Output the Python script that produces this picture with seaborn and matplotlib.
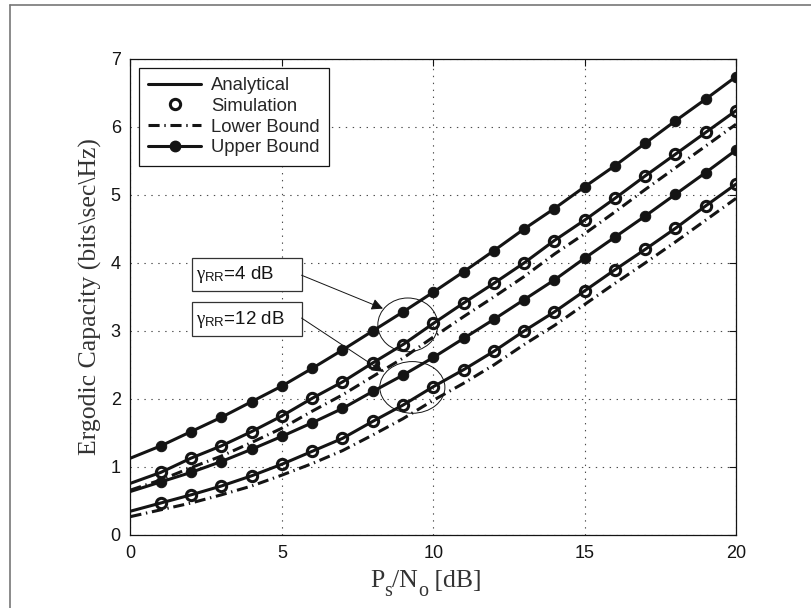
import numpy as np
import pandas as pd
import seaborn as sns
import matplotlib
matplotlib.use("Agg")
import matplotlib.pyplot as plt
from matplotlib.lines import Line2D
from matplotlib.patches import Ellipse, Rectangle
from matplotlib.transforms import IdentityTransform

# ---- data -------------------------------------------------------------
snr_db = list(range(0, 21))

upper_4dB = [1.13, 1.31, 1.52, 1.73, 1.96, 2.19, 2.45, 2.72, 3.00, 3.28, 3.57,
             3.87, 4.18, 4.50, 4.80, 5.12, 5.43, 5.76, 6.09, 6.41, 6.74]
analytical_4dB = [0.76, 0.92, 1.13, 1.31, 1.52, 1.75, 2.01, 2.25, 2.53, 2.80, 3.11,
                  3.41, 3.70, 4.00, 4.33, 4.63, 4.95, 5.28, 5.60, 5.92, 6.24]
lower_4dB = [0.66, 0.81, 0.99, 1.16, 1.36, 1.57, 1.82, 2.06, 2.33, 2.60, 2.91,
             3.21, 3.50, 3.80, 4.13, 4.43, 4.75, 5.08, 5.40, 5.72, 6.04]

upper_12dB = [0.64, 0.78, 0.92, 1.08, 1.26, 1.45, 1.65, 1.86, 2.11, 2.35, 2.61,
              2.89, 3.17, 3.46, 3.75, 4.07, 4.38, 4.69, 5.01, 5.33, 5.66]
analytical_12dB = [0.35, 0.47, 0.59, 0.72, 0.87, 1.04, 1.23, 1.42, 1.67, 1.91, 2.18,
                   2.43, 2.70, 3.00, 3.28, 3.59, 3.90, 4.20, 4.51, 4.84, 5.16]
lower_12dB = [0.27, 0.37, 0.47, 0.59, 0.72, 0.88, 1.05, 1.24, 1.47, 1.71, 1.98,
              2.23, 2.50, 2.80, 3.08, 3.39, 3.70, 4.00, 4.31, 4.63, 4.95]

# simulation points at 1..20 dB
sim_x = snr_db[1:]
sim_4dB = analytical_4dB[1:]
sim_12dB = analytical_12dB[1:]

legend_labels = ["Analytical", "Simulation", "Lower Bound", "Upper Bound"]

# ---- style ------------------------------------------------------------
sns.set_theme(style="white")
plt.rcParams["font.family"] = ["Liberation Sans", "DejaVu Sans"]
plt.rcParams["mathtext.fontset"] = "custom"
plt.rcParams["mathtext.rm"] = "Liberation Serif"
plt.rcParams["mathtext.it"] = "Liberation Serif:italic"
plt.rcParams["mathtext.sf"] = "Liberation Sans"
plt.rcParams["lines.scale_dashes"] = False

INK = "#141414"
LW = 2.2
DASHDOT = (0, (8, 3.4, 1.0, 3.4))

fig = plt.figure(figsize=(8.12, 6.08), dpi=100)
ax = fig.add_axes([0.1607, 0.1201, 0.7457, 0.7829])

df = pd.DataFrame({
    "snr": snr_db,
    "ub4": upper_4dB, "an4": analytical_4dB, "lb4": lower_4dB,
    "ub12": upper_12dB, "an12": analytical_12dB, "lb12": lower_12dB,
})
sim = pd.DataFrame({"snr": sim_x, "s4": sim_4dB, "s12": sim_12dB})

for col in ["lb4", "lb12"]:
    sns.lineplot(data=df, x="snr", y=col, ax=ax, color=INK, lw=LW,
                 linestyle=DASHDOT, zorder=2)
for col in ["an4", "an12"]:
    sns.lineplot(data=df, x="snr", y=col, ax=ax, color=INK, lw=LW, zorder=3)
for col in ["ub4", "ub12"]:
    sns.lineplot(data=df, x="snr", y=col, ax=ax, color=INK, lw=LW,
                 marker="o", markersize=7.5, markerfacecolor=INK,
                 markeredgecolor=INK, markevery=list(range(1, 21)), zorder=3)
for col in ["s4", "s12"]:
    sns.lineplot(data=sim, x="snr", y=col, ax=ax, color=INK, lw=0,
                 linestyle="none", marker="o", markersize=7.4,
                 markerfacecolor="none", markeredgecolor=INK,
                 markeredgewidth=2.2, zorder=4)

# ---- axes -------------------------------------------------------------
ax.set_xlim(0, 20)
ax.set_ylim(0, 7)
ax.set_xticks([0, 5, 10, 15, 20])
ax.set_yticks(range(0, 8))
ax.tick_params(direction="in", top=True, right=True, length=5, width=0.8,
               labelsize=13, colors=INK, pad=7)
ax.grid(True, linestyle=(0, (1, 4)), color="0.3", linewidth=0.8)
for sp in ax.spines.values():
    sp.set_color(INK)
    sp.set_linewidth(0.9)

ax.set_xlabel("")
ax.set_ylabel(r"Ergodic Capacity (bits\sec\Hz)", family="Liberation Serif",
              fontsize=18.5, color="#333333", labelpad=6)

# x label written piece by piece so the subscripts sit well below the line
renderer = fig.canvas.get_renderer()
pieces = [("P", 18.5, 21), ("s", 14.5, 12), ("/N", 18.5, 21),
          ("o", 14.5, 12), (" [dB]", 18.5, 21)]
texts = []
for s, size, base in pieces:
    t = fig.text(0, base, s, transform=IdentityTransform(),
                 family="Liberation Serif", fontsize=size, color="#333333",
                 ha="left", va="baseline")
    texts.append(t)
widths = [t.get_window_extent(renderer).width for t in texts]
x = 426 - sum(widths) / 2
for t, w in zip(texts, widths):
    t.set_x(x)
    x += w

# ---- legend -----------------------------------------------------------
handles = [
    Line2D([], [], color=INK, lw=LW),
    Line2D([], [], color=INK, lw=0, marker="o", markersize=7.4,
           markerfacecolor="none", markeredgewidth=2.2),
    Line2D([], [], color=INK, lw=LW, linestyle=DASHDOT),
    Line2D([], [], color=INK, lw=LW, marker="o", markersize=7.5),
]
leg = ax.legend(handles, legend_labels, loc="upper left",
                bbox_to_anchor=(0.014, 0.981), borderaxespad=0,
                fontsize=13.3, handlelength=2.85, handletextpad=0.55,
                labelspacing=0.2, borderpad=0.5, numpoints=1,
                fancybox=False, framealpha=1, edgecolor=INK)
leg.get_frame().set_linewidth(0.9)

# ---- annotations ------------------------------------------------------
for (cx, cy, w, h) in [(9.16, 3.09, 1.98, 0.79), (9.31, 2.17, 2.15, 0.76)]:
    ax.add_patch(Ellipse((cx, cy), w, h, fill=False, edgecolor=INK,
                         lw=0.7, zorder=5))

boxes = [
    (3.59, 4.08, r"$\mathrm{\gamma}_{\mathsf{RR}}$=4 dB", (5.65, 3.82), (8.34, 3.33)),
    (2.92, 3.42, r"$\mathrm{\gamma}_{\mathsf{RR}}$=12 dB", (5.65, 3.19), (8.34, 2.40)),
]
for y0, y1, label, tail, tip in boxes:
    ax.add_patch(Rectangle((2.02, y0), 3.63, y1 - y0, fill=True,
                           facecolor="white", edgecolor="#333333", lw=0.9,
                           zorder=6))
    ax.text(2.15, (y0 + y1) / 2, label, fontsize=13.5, color=INK,
            ha="left", va="center", zorder=7)
    ax.annotate("", xy=tip, xytext=tail,
                arrowprops=dict(arrowstyle="-|>", color=INK, lw=0.7,
                                mutation_scale=17, shrinkA=0, shrinkB=0),
                zorder=7)

# thin frame around the figure
fig.add_artist(Line2D([10 / 812, 1], [1 - 5 / 608, 1 - 5 / 608],
                      transform=fig.transFigure, color="#777777", lw=1.2))
fig.add_artist(Line2D([10 / 812, 10 / 812], [0, 1 - 5 / 608],
                      transform=fig.transFigure, color="#777777", lw=1.2))

fig.savefig("out.png", dpi=100, facecolor="white")
